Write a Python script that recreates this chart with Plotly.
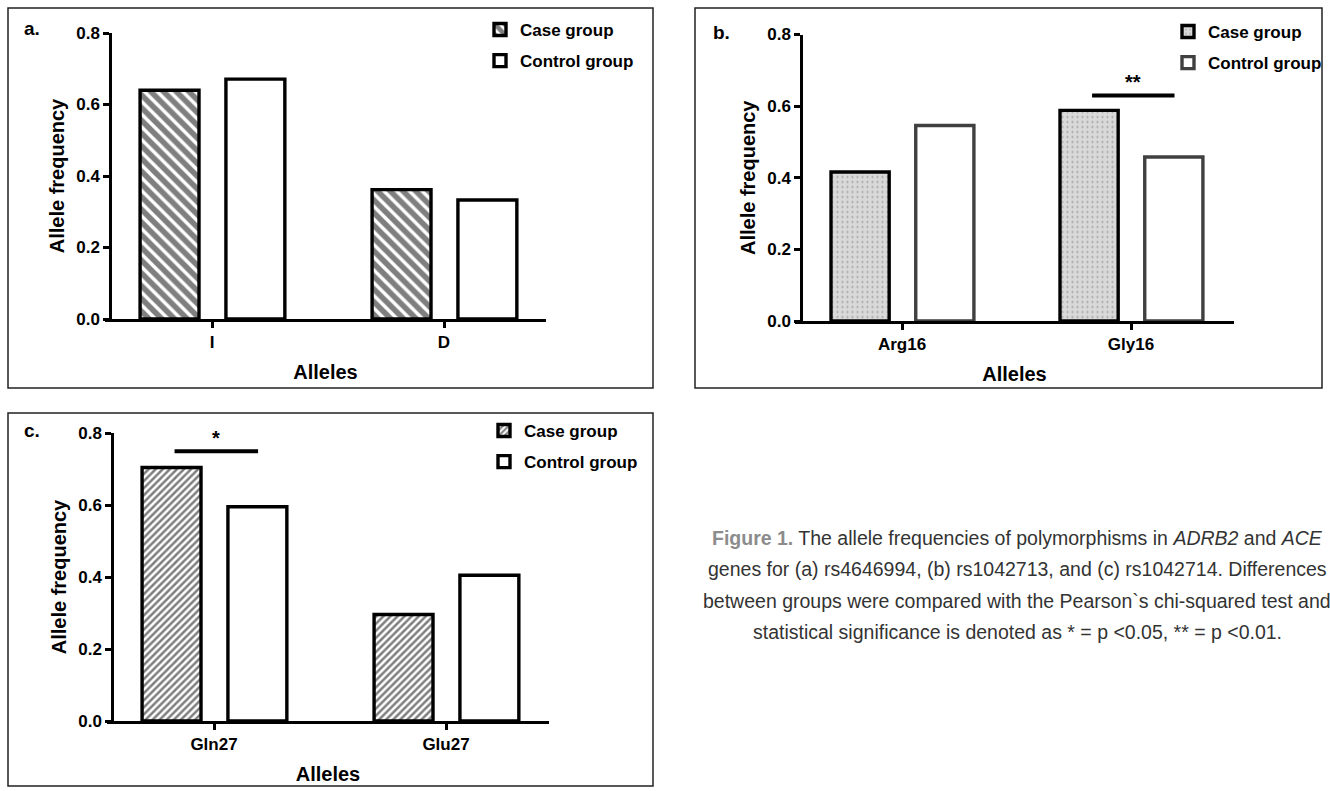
import plotly.graph_objects as go

W, H = 1330, 791

# ---------------- data ----------------
categories_a = ["I", "D"]
case_a = [0.640, 0.362]
control_a = [0.671, 0.333]

categories_b = ["Arg16", "Gly16"]
case_b = [0.416, 0.588]
control_b = [0.546, 0.458]

categories_c = ["Gln27", "Glu27"]
case_c = [0.704, 0.296]
control_c = [0.595, 0.405]

y_tick_vals = [0.0, 0.2, 0.4, 0.6, 0.8]
y_tick_text = ["0.0", "0.2", "0.4", "0.6", "0.8"]

series_names = ["Case group", "Control group"]

sig_b = {"category": 1, "y": 0.63, "label": "**"}
sig_c = {"category": 0, "y": 0.749, "label": "*"}

caption_lines = [
    "<b><span style='color:#8c8c8c'>Figure 1.</span></b> The allele frequencies of polymorphisms in <i>ADRB2</i> and <i>ACE</i>",
    "genes for (a) rs4646994, (b) rs1042713, and (c) rs1042714. Differences",
    "between groups were compared with the Pearson`s chi-squared test and",
    "statistical significance is denoted as * = p <0.05, ** = p <0.01.",
]


def px(x):
    return x / W


def py(y):
    return 1 - y / H


FONT = "Liberation Sans, Arial, sans-serif"
BAR_W = 0.254
OFF_CASE = -0.31
OFF_CTRL = 0.06

fig = go.Figure()

panels = [
    dict(suffix="", leg="legend", cats=categories_a, case=case_a, ctrl=control_a,
         pattern=dict(shape="\\", fgcolor="black", bgcolor="white", size=9, solidity=0.62),
         case_line="black", ctrl_line="black"),
    dict(suffix="2", leg="legend2", cats=categories_b, case=case_b, ctrl=control_b,
         pattern=dict(shape=".", fgcolor="#6a6a6a", bgcolor="#d9d9d9", size=5, solidity=0.15),
         case_line="black", ctrl_line="#404040"),
    dict(suffix="3", leg="legend3", cats=categories_c, case=case_c, ctrl=control_c,
         pattern=dict(shape="/", fgcolor="black", bgcolor="white", size=5, solidity=0.5),
         case_line="black", ctrl_line="black"),
]

for i, p in enumerate(panels):
    xa = "x" + p["suffix"]
    ya = "y" + p["suffix"]
    xs = list(range(len(p["cats"])))
    fig.add_trace(go.Bar(
        x=xs, y=p["case"], name=series_names[0], xaxis=xa, yaxis=ya,
        width=BAR_W, offset=OFF_CASE, legend=p["leg"], legendgroup=f"g{i}a",
        marker=dict(color=p["pattern"]["bgcolor"], line=dict(color=p["case_line"], width=3.4),
                    pattern=p["pattern"]),
        hoverinfo="x+y",
    ))
    fig.add_trace(go.Bar(
        x=xs, y=p["ctrl"], name=series_names[1], xaxis=xa, yaxis=ya,
        width=BAR_W, offset=OFF_CTRL, legend=p["leg"], legendgroup=f"g{i}b",
        marker=dict(color="white", line=dict(color=p["ctrl_line"], width=3.4)),
        hoverinfo="x+y",
    ))

# geometry of each panel in pixels
geo = [
    dict(suffix="", xl=105, xr=546, yx=110, yb=319, yt=33, c0=212, dc=232),
    dict(suffix="2", xl=795, xr=1234, yx=801, yb=321, yt=34.5, c0=902, dc=229),
    dict(suffix="3", xl=107, xr=549, yx=112, yb=721, yt=433, c0=214, dc=232),
]

tickfont = dict(family=FONT, size=17, color="black", weight="bold")
titlefont = dict(family=FONT, size=20, color="black", weight="bold")

layout_axes = {}
for g, p in zip(geo, panels):
    s = g["suffix"]
    layout_axes["xaxis" + s] = dict(
        domain=[px(g["xl"]), px(g["xr"])],
        range=[(g["xl"] - g["c0"]) / g["dc"], (g["xr"] - g["c0"]) / g["dc"]],
        anchor="y" + s,
        showline=True, linecolor="black", linewidth=2.5,
        ticks="outside", ticklen=6, tickwidth=2.5, tickcolor="black",
        tickvals=list(range(len(p["cats"]))), ticktext=p["cats"],
        tickfont=tickfont, showgrid=False, zeroline=False,
        title=dict(text="Alleles", font=titlefont, standoff=14),
        automargin=False, fixedrange=True,
    )
    layout_axes["yaxis" + s] = dict(
        domain=[py(g["yb"]), py(g["yt"])],
        range=[0, 0.8],
        anchor="free", position=px(g["yx"]),
        showline=True, linecolor="black", linewidth=2.5,
        ticks="outside", ticklen=6, tickwidth=2.5, tickcolor="black",
        tickvals=y_tick_vals, ticktext=y_tick_text,
        tickfont=tickfont, showgrid=False, zeroline=False,
        title=dict(text="Allele frequency", font=titlefont, standoff=5),
        automargin=False, fixedrange=True,
    )

legend_common = dict(
    xanchor="left", yanchor="top", bgcolor="rgba(0,0,0,0)",
    font=dict(family=FONT, size=17, color="black", weight="bold"),
    tracegroupgap=6, itemclick=False, itemdoubleclick=False,
)

shapes = []
for (x0, y0, x1, y1) in [(8, 8, 653, 388), (695, 8, 1322, 388), (8, 413, 653, 786)]:
    shapes.append(dict(type="rect", xref="paper", yref="paper",
                       x0=px(x0), x1=px(x1), y0=py(y0), y1=py(y1),
                       line=dict(color="#222222", width=1.5)))
for sig, s in [(sig_b, "2"), (sig_c, "3")]:
    shapes.append(dict(type="line", xref="x" + s, yref="y" + s,
                       x0=sig["category"] - 0.17, x1=sig["category"] + 0.19,
                       y0=sig["y"], y1=sig["y"], line=dict(color="black", width=4)))

annotations = []
for label, (x, y) in zip(["a.", "b.", "c."], [(32, 28), (721, 33), (32, 430)]):
    annotations.append(dict(text=label, xref="paper", yref="paper", x=px(x), y=py(y),
                            xanchor="center", yanchor="middle", showarrow=False,
                            font=dict(family=FONT, size=19, color="black", weight="bold")))
for sig, s in [(sig_b, "2"), (sig_c, "3")]:
    annotations.append(dict(text=sig["label"], xref="x" + s, yref="y" + s,
                            x=sig["category"] + 0.01, y=sig["y"], yanchor="bottom",
                            showarrow=False, font=dict(family=FONT, size=20, color="black", weight="bold")))

cap_y = [538, 569, 601, 632]
for line, y in zip(caption_lines, cap_y):
    annotations.append(dict(text=line, xref="paper", yref="paper", x=px(1017), y=py(y),
                            xanchor="center", yanchor="middle", showarrow=False,
                            font=dict(family="Liberation Sans Narrow, Arial Narrow, Liberation Sans, sans-serif",
                                      size=19.5, color="#333333")))

fig.update_layout(
    width=W, height=H,
    margin=dict(l=0, r=0, t=0, b=0),
    paper_bgcolor="white", plot_bgcolor="white",
    barmode="overlay",
    showlegend=True,
    legend=dict(x=px(480), y=py(12), **legend_common),
    legend2=dict(x=px(1168), y=py(14), **legend_common),
    legend3=dict(x=px(484), y=py(413), **legend_common),
    shapes=shapes,
    annotations=annotations,
    font=dict(family=FONT),
    **layout_axes,
)

fig.write_html("out.html", config={"displayModeBar": False},
               post_script="document.body.style.margin='0';document.body.style.overflow='hidden';")
